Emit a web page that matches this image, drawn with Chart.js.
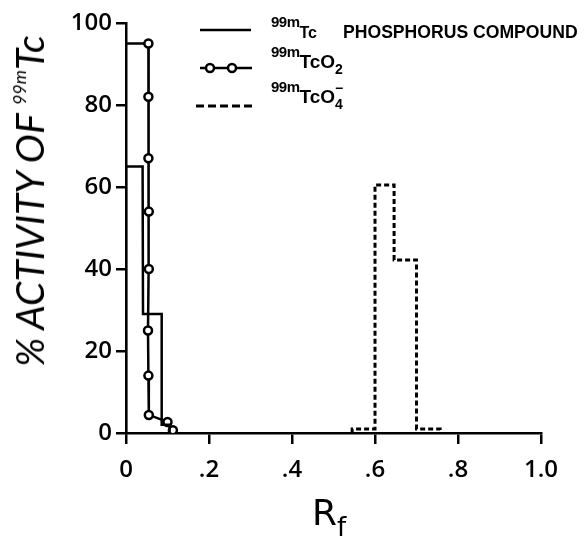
<!DOCTYPE html>
<html>
<head>
<meta charset="utf-8">
<script src="https://cdn.jsdelivr.net/npm/chart.js@4.4.1/dist/chart.umd.min.js"></script>
<style>
  html, body { margin: 0; padding: 0; background: #fff; }
  #wrap { position: relative; width: 584px; height: 548px; }
  #chart { position: absolute; left: 0; top: 0; }
  .lbl { position: absolute; color: #000; white-space: nowrap; font-family: "Liberation Sans", Arial, sans-serif; }
  .leg { font-weight: bold; font-size: 19px; line-height: 18px; }
  .leg .sup { font-size: 15px; position: relative; top: -11px; letter-spacing: -0.5px; }
  .leg .tc { font-size: 16px; }
  .leg .sub { font-size: 14px; position: relative; top: 6px; }
  .leg .minus { font-size: 14px; position: relative; top: -10px; margin-left: -8px; }
  #ytitle { left: 29px; top: 201px; transform: translate(-50%, -50%) rotate(-90deg); font-family: Lato, "DejaVu Sans", sans-serif; font-style: italic; font-weight: 400; font-size: 39px; }
  #ytitle .sup { font-size: 18px; position: relative; top: -18px; }
  #xtitle { left: 312px; top: 492px; font-family: "DejaVu Sans", sans-serif; font-size: 36px; }
  #xtitle .sub { font-size: 26px; position: relative; top: 11px; }
</style>
</head>
<body>
<div id="wrap">
  <canvas id="chart" width="584" height="548"></canvas>
  <div class="lbl leg" style="left:271px; top:23px;"><span class="sup">99m</span><span class="tc">Tc</span></div>
  <div class="lbl leg" style="left:343px; top:23px; font-size:17.6px;">PHOSPHORUS COMPOUND</div>
  <div class="lbl leg" style="left:271px; top:53px;"><span class="sup">99m</span>TcO<span class="sub">2</span></div>
  <div class="lbl leg" style="left:271px; top:88px;"><span class="sup">99m</span>TcO<span class="sub">4</span><span class="minus">−</span></div>
  <div class="lbl" id="ytitle">% ACTIVITY OF <span class="sup">99m</span>Tc</div>
  <div class="lbl" id="xtitle">R<span class="sub">f</span></div>
</div>
<script>
// ===== DATA =====
const xTickLabels = ['0', '.2', '.4', '.6', '.8', '1.0'];
const yTickLabels = ['0', '20', '40', '60', '80', '100'];

// 99mTc phosphorus compound (solid step line)
const phosRf = [0, 0, 0.04, 0.041, 0.086, 0.086, 0.105, 0.105];
const phosPct = [0, 65, 65, 29, 29, 2, 2, 0];

// 99mTcO2 (line with open circles)
const tco2Rf = [0, 0.054, 0.054, 0.054, 0.055, 0.055, 0.053, 0.054, 0.055, 0.100, 0.113];
const tco2Pct = [95, 95, 82, 67, 54, 40, 25, 14, 4.4, 2.7, 0.7];

// 99mTcO4- (dashed step line)
const tco4Rf = [0.545, 0.545, 0.6, 0.6, 0.646, 0.646, 0.70, 0.70, 0.757, 0.757];
const tco4Pct = [0, 1, 1, 60.5, 60.5, 42.2, 42.2, 1, 1, 0];

const toPts = (xs, ys) => xs.map((x, i) => ({ x: x, y: ys[i] }));

// ===== CHART AREA PIN =====
const AREA = { left: 126, right: 541, top: 23, bottom: 433 };

// legend samples drawn on the canvas
const legendSamples = {
    id: 'legendSamples',
    afterDraw(chart) {
        const ctx = chart.ctx;
        ctx.save();
        ctx.strokeStyle = '#000';
        ctx.lineWidth = 2.5;
        // solid
        ctx.beginPath(); ctx.moveTo(200, 30); ctx.lineTo(251, 30); ctx.stroke();
        // circles
        ctx.beginPath(); ctx.moveTo(200, 68); ctx.lineTo(252, 68); ctx.stroke();
        [210, 232].forEach(cx => {
            ctx.beginPath(); ctx.arc(cx, 68, 4, 0, Math.PI * 2);
            ctx.fillStyle = '#fff'; ctx.fill(); ctx.stroke();
        });
        // dashed
        ctx.setLineDash([8, 4]);
        ctx.lineWidth = 3;
        ctx.beginPath(); ctx.moveTo(196, 106); ctx.lineTo(252, 106); ctx.stroke();
        ctx.restore();
    }
};

new Chart(document.getElementById('chart'), {
    type: 'line',
    data: {
        datasets: [
            {
                label: '99mTc phosphorus compound',
                data: toPts(phosRf, phosPct),
                borderColor: '#000',
                borderWidth: 2.5,
                pointRadius: 0,
                tension: 0
            },
            {
                label: '99mTcO2',
                data: toPts(tco2Rf, tco2Pct),
                borderColor: '#000',
                borderWidth: 2.5,
                pointRadius: ctx => ctx.dataIndex === 0 ? 0 : 4,
                pointBackgroundColor: '#fff',
                pointBorderColor: '#000',
                pointBorderWidth: 2.5,
                tension: 0
            },
            {
                label: '99mTcO4-',
                data: toPts(tco4Rf, tco4Pct),
                borderColor: '#000',
                borderWidth: 3,
                borderDash: [5, 3],
                pointRadius: 0,
                tension: 0
            }
        ]
    },
    options: {
        responsive: false,
        animation: false,
        layout: { padding: { top: AREA.top, right: 584 - AREA.right, left: 0, bottom: 0 } },
        plugins: { legend: { display: false }, tooltip: { enabled: false } },
        scales: {
            x: {
                type: 'linear',
                min: 0, max: 1,
                ticks: {
                    stepSize: 0.2,
                    padding: 12,
                    color: '#000',
                    font: { family: 'Open Sans', size: 24, weight: '600' },
                    callback: (v, i) => xTickLabels[i]
                },
                grid: { drawOnChartArea: false, color: '#000', lineWidth: 2.5, tickLength: 11 },
                border: { color: '#000', width: 2.5 },
                afterFit: s => { s.height = 548 - AREA.bottom; }
            },
            y: {
                min: 0, max: 100,
                ticks: {
                    stepSize: 20,
                    padding: 4,
                    color: '#000',
                    font: { family: 'Open Sans', size: 24, weight: '600' },
                    callback: (v, i) => yTickLabels[i]
                },
                grid: { drawOnChartArea: false, color: '#000', lineWidth: 2.5, tickLength: 10 },
                border: { color: '#000', width: 2.5 },
                afterFit: s => { s.width = AREA.left; }
            }
        }
    },
    plugins: [legendSamples]
});
</script>
</body>
</html>
